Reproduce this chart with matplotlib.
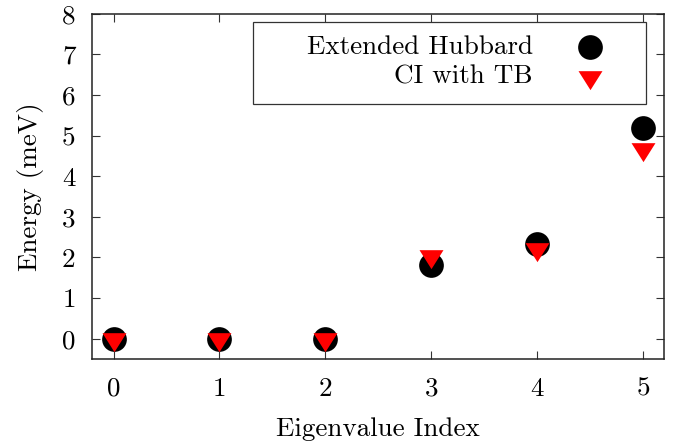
import matplotlib
matplotlib.use("Agg")
import matplotlib.pyplot as plt
import numpy as np

plt.rcParams['font.family'] = ['cmr10', 'DejaVu Serif']
plt.rcParams['mathtext.fontset'] = 'cm'
plt.rcParams['axes.unicode_minus'] = False

# Data
index = [0, 1, 2, 3, 4, 5]
hubbard = [0.0, 0.0, 0.0, 1.82, 2.34, 5.20]
ci_tb = [0.0, 0.0, 0.0, 2.03, 2.22, 4.68]
labels = ["Extended Hubbard", "CI with TB"]
xticks = [0, 1, 2, 3, 4, 5]
yticks = [0, 1, 2, 3, 4, 5, 6, 7, 8]

# triangle marker with centroid at origin (gnuplot style)
tri = [(-12, 6.33), (12, 6.33), (0, -12.67), (-12, 6.33)]

FS = 19.5

fig = plt.figure(figsize=(6.84, 4.47), dpi=100)
ax = fig.add_axes([0.135, 0.197, 0.836, 0.772])

ax.plot(index, hubbard, linestyle='none', marker='o', markersize=17.8,
        markerfacecolor='black', markeredgewidth=0, color='black')
ax.plot(index, ci_tb, linestyle='none', marker=tri, markersize=18.2,
        markerfacecolor='#ff0000', markeredgewidth=0, color='#ff0000')

ax.set_xlim(-0.2, 5.2)
ax.set_ylim(-0.5, 8)
ax.set_xticks(xticks)
ax.set_yticks(yticks)
ax.tick_params(direction='in', length=6, width=0.8, top=True, right=True,
               labelsize=FS, color='#333333')
ax.tick_params(axis='x', pad=13)
ax.tick_params(axis='y', pad=12)
for s in ax.spines.values():
    s.set_linewidth(1.1)
    s.set_color('#222222')

ax.set_xlabel("Eigenvalue Index", fontsize=FS, labelpad=12)
ax.set_ylabel("Energy (meV)", fontsize=FS, labelpad=13)

# Legend box (gnuplot style, right-aligned text, marker after text)
from matplotlib.patches import Rectangle
ax.add_patch(Rectangle((0.281, 0.739), 0.687, 0.236, transform=ax.transAxes,
                       facecolor='white', edgecolor='#333333', linewidth=0.9,
                       zorder=5))
rows_y = [0.904, 0.818]
ax.text(0.770, rows_y[0], labels[0], transform=ax.transAxes, ha='right',
        va='center', fontsize=FS, zorder=6)
ax.text(0.770, rows_y[1], labels[1], transform=ax.transAxes, ha='right',
        va='center', fontsize=FS, zorder=6)
ax.plot([0.870], [rows_y[0]], transform=ax.transAxes, linestyle='none',
        marker='o', markersize=17.8, markerfacecolor='black',
        markeredgewidth=0, zorder=6, clip_on=False)
ax.plot([0.870], [rows_y[1]], transform=ax.transAxes, linestyle='none',
        marker=tri, markersize=18.2, markerfacecolor='#ff0000',
        markeredgewidth=0, zorder=6, clip_on=False)

fig.savefig("out.png", dpi=100)
